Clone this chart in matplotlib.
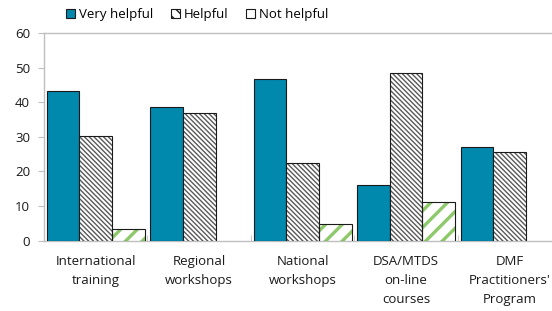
import numpy as np
import matplotlib
matplotlib.use('Agg')
import matplotlib.pyplot as plt
from matplotlib.patches import Patch

plt.rcParams['font.family'] = ['Open Sans', 'DejaVu Sans']

categories = ['International\ntraining', 'Regional\nworkshops', 'National\nworkshops',
              'DSA/MTDS\non-line\ncourses', "DMF\nPractitioners'\nProgram"]
very_helpful = [43.3, 38.6, 46.6, 16.1, 27.2]
helpful = [30.3, 36.9, 22.4, 48.4, 25.7]
not_helpful = [3.3, 0, 4.7, 11.3, 0]
series_names = ['Very helpful', 'Helpful', 'Not helpful']

BLUE = '#0088ad'
GREEN = '#8dc96a'
GRAY = '#bfbfbf'
EDGE = '#1a1a1a'

fig = plt.figure(figsize=(5.52, 3.11), dpi=100)
ax = fig.add_axes([0.0797, 0.226, 0.9373, 0.668])

x = np.arange(len(categories))
w = 0.315

# very helpful: solid
ax.bar(x - w, very_helpful, w, color=BLUE, edgecolor=EDGE, linewidth=0.8, zorder=3)

# helpful: dense dark diagonal hatch
with plt.rc_context({'hatch.linewidth': 1.0}):
    ax.bar(x, helpful, w, color='white', edgecolor='#5a5a5a', hatch='\\' * 7, linewidth=0, zorder=3)
ax.bar(x, helpful, w, fill=False, edgecolor=EDGE, linewidth=0.8, zorder=4)

# not helpful: wide green hatch
nh = np.array(not_helpful)
mask = nh > 0
with plt.rc_context({'hatch.linewidth': 2.4}):
    ax.bar(x[mask] + w, nh[mask], w, color='white', edgecolor=GREEN, hatch='//', linewidth=0, zorder=3)
ax.bar(x[mask] + w, nh[mask], w, fill=False, edgecolor=EDGE, linewidth=0.8, zorder=4)

ax.set_xlim(-0.5, len(categories) - 0.5)
ax.set_ylim(0, 60)
ax.set_yticks(range(0, 61, 10))
ax.tick_params(axis='y', labelsize=9.5, colors='#1a1a1a', length=4, color=GRAY, pad=6)
ax.set_xticks(x)
ax.set_xticklabels(categories, fontsize=9.5, linespacing=1.6)
ax.tick_params(axis='x', length=0, pad=10, colors='#1a1a1a')
ax.set_xticks(np.arange(0.5, len(categories) - 0.5, 1), minor=True)
ax.tick_params(axis='x', which='minor', direction='in', length=4, color=GRAY)
for s in ['left', 'bottom', 'top']:
    ax.spines[s].set_color(GRAY)
    ax.spines[s].set_linewidth(1.0)
ax.spines['right'].set_visible(False)

with plt.rc_context({'hatch.linewidth': 1.0}):
    handles = [Patch(facecolor=BLUE, edgecolor=EDGE, linewidth=0.8),
               Patch(facecolor='white', edgecolor=EDGE, hatch='\\\\\\', linewidth=0.8),
               Patch(facecolor='white', edgecolor=EDGE, linewidth=0.8)]
leg = fig.legend(handles, series_names, loc='center', bbox_to_anchor=(0.357, 0.952), ncol=3,
                 frameon=False, fontsize=9.5, handlelength=0.7, handleheight=0.7,
                 handletextpad=0.3, columnspacing=1.3)

fig.savefig('out.png', dpi=100)
